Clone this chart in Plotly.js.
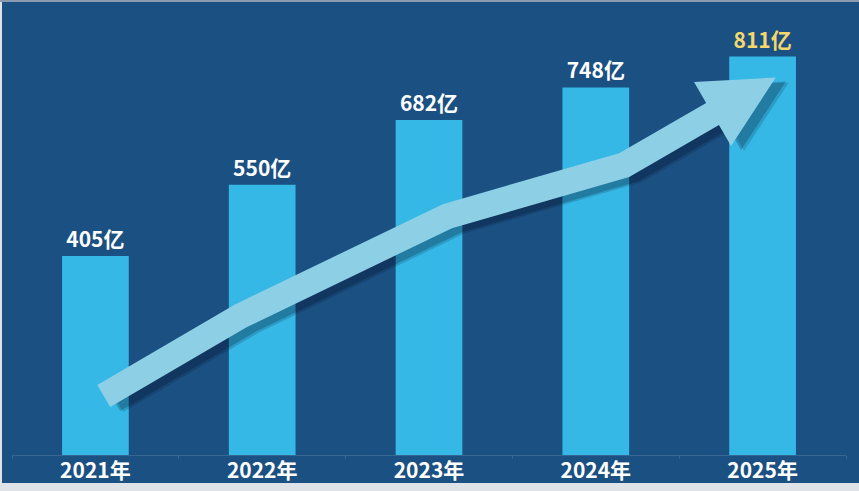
<!DOCTYPE html>
<html>
<head>
<meta charset="utf-8">
<script src="https://cdn.plot.ly/plotly-3.0.1.min.js"></script>
<style>
  html, body { margin: 0; padding: 0; background: #dfe3e8; width: 859px; height: 491px; overflow: hidden; }
  #frame { position: absolute; left: 0; top: 0; width: 859px; height: 2px; background: #8d9bb0; }
  #chart { position: absolute; left: 2px; top: 2px; width: 857px; height: 489px; }
</style>
</head>
<body>
<div id="frame"></div>
<div id="chart"></div>
<script>
// ---- data ----
const years = ['2021年', '2022年', '2023年', '2024年', '2025年'];
const values = [405, 550, 682, 748, 811];
const unit = '亿';
const labelColors = ['#ffffff', '#ffffff', '#ffffff', '#ffffff', '#f6d76b'];

// ---- style ----
const BG = '#1b5082';
const BAR = '#35b8e6';
const ARROW = '#8dd0e6';
const STRIP = '#dfe3e8';
const FONT = '"Noto Sans CJK SC", "Noto Sans", sans-serif';

const W = 857, H = 489;
const M = { l: 10, r: 13, t: 0, b: 36 };
const STRIP_PX = 8;
const YMAX = 922;

// decorative trend arrow, defined in data space (category index, value)
const arrowPath = [
  [0.05, 120],
  [0.87, 283],
  [2.11, 486],
  [3.17, 590],
  [3.70, 694]
];

const plotW = W - M.l - M.r, plotH = H - M.t - M.b;
const nCat = years.length;
function toPx(p) {
  return [M.l + (p[0] + 0.5) / nCat * plotW, M.t + plotH - p[1] / YMAX * plotH];
}
function toPaper(p) {
  return [(p[0] - M.l) / plotW, (M.t + plotH - p[1]) / plotH];
}
function norm(v) { const L = Math.hypot(v[0], v[1]); return [v[0] / L, v[1] / L]; }

function arrowPolygon(pts, halfW, headHalf, headLen) {
  const up = [], low = [];
  for (let i = 0; i < pts.length; i++) {
    let n;
    if (i === 0 || i === pts.length - 1) {
      const a = i === 0 ? pts[0] : pts[i - 1], b = i === 0 ? pts[1] : pts[i];
      const u = norm([b[0] - a[0], b[1] - a[1]]);
      n = [-u[1], u[0]];
      n = [n[0] * halfW, n[1] * halfW];
    } else {
      const u1 = norm([pts[i][0] - pts[i - 1][0], pts[i][1] - pts[i - 1][1]]);
      const u2 = norm([pts[i + 1][0] - pts[i][0], pts[i + 1][1] - pts[i][1]]);
      const n1 = [-u1[1], u1[0]], n2 = [-u2[1], u2[0]];
      const m = norm([n1[0] + n2[0], n1[1] + n2[1]]);
      const s = halfW / (m[0] * n1[0] + m[1] * n1[1]);
      n = [m[0] * s, m[1] * s];
    }
    up.push([pts[i][0] - n[0], pts[i][1] - n[1]]);
    low.push([pts[i][0] + n[0], pts[i][1] + n[1]]);
  }
  const last = pts[pts.length - 1], prev = pts[pts.length - 2];
  const u = norm([last[0] - prev[0], last[1] - prev[1]]);
  const n = [-u[1], u[0]];
  const wing1 = [last[0] - n[0] * headHalf, last[1] - n[1] * headHalf];
  const wing2 = [last[0] + n[0] * headHalf, last[1] + n[1] * headHalf];
  const tip = [last[0] + u[0] * headLen, last[1] + u[1] * headLen];
  return up.concat([wing1, tip, wing2]).concat(low.reverse());
}

const pxPts = arrowPath.map(toPx);
const poly = arrowPolygon(pxPts, 12.8, 37, 73);
function pathFrom(polyPx, dx, dy) {
  return 'M ' + polyPx.map(p => {
    const q = toPaper([p[0] + dx, p[1] + dy]);
    return q[0].toFixed(5) + ',' + q[1].toFixed(5);
  }).join(' L ') + ' Z';
}

const shapes = [
  // light strip at the very bottom of the picture
  { type: 'rect', xref: 'paper', yref: 'paper', x0: -1, x1: 2,
    y0: -(M.b) / plotH - 0.01, y1: -(M.b - STRIP_PX) / plotH,
    fillcolor: STRIP, line: { width: 0 }, layer: 'below' },
  { type: 'path', xref: 'paper', yref: 'paper', path: pathFrom(poly, 13, 5), fillcolor: 'rgba(0,10,30,0.16)', line: { width: 0 }, layer: 'above' },
  { type: 'path', xref: 'paper', yref: 'paper', path: pathFrom(poly, 10, 4), fillcolor: 'rgba(0,10,30,0.22)', line: { width: 0 }, layer: 'above' },
  { type: 'path', xref: 'paper', yref: 'paper', path: pathFrom(poly, 0, 0), fillcolor: ARROW, line: { width: 0 }, layer: 'above' }
];

const trace = {
  type: 'bar',
  x: years,
  y: values,
  marker: { color: BAR },
  text: values.map(v => v + unit),
  textposition: 'outside',
  textfont: { family: FONT, size: 21, color: labelColors, weight: 'bold' },
  cliponaxis: false,
  hoverinfo: 'none'
};

const layout = {
  width: W, height: H,
  margin: M,
  paper_bgcolor: BG,
  plot_bgcolor: BG,
  showlegend: false,
  bargap: 0.6,
  xaxis: {
    type: 'category',
    showline: true, linecolor: 'rgba(255,255,255,0.13)', linewidth: 1,
    ticks: 'outside', tickson: 'boundaries', ticklen: 3, tickcolor: 'rgba(255,255,255,0.13)',
    ticklabelstandoff: -3,
    tickfont: { family: FONT, size: 21, color: '#ffffff', weight: 'bold' },
    showgrid: false, zeroline: false, fixedrange: true
  },
  yaxis: { range: [0, YMAX], visible: false, showgrid: false, zeroline: false, fixedrange: true },
  shapes: shapes
};

Plotly.newPlot('chart', [trace], layout, { displayModeBar: false, staticPlot: true });
</script>
</body>
</html>
